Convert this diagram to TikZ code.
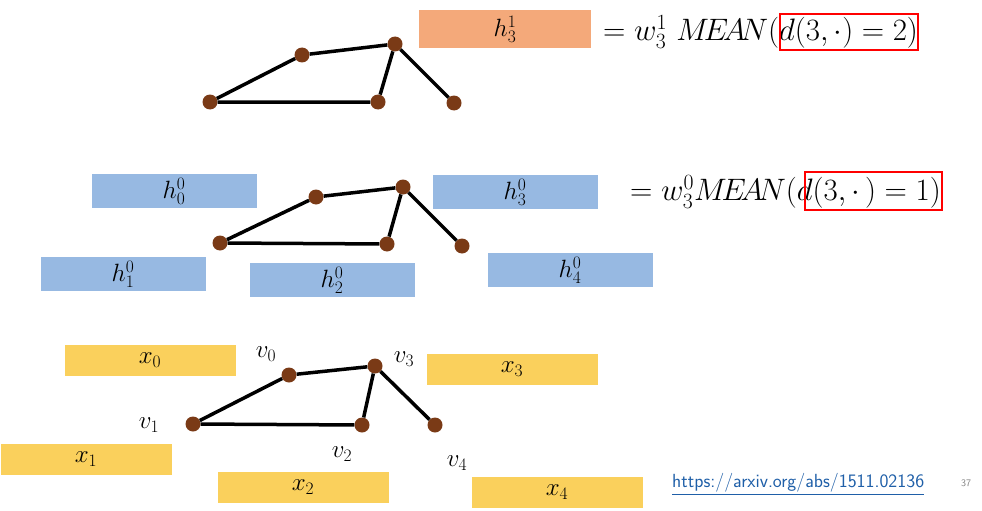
\documentclass[tikz,border=0pt]{standalone}
\usepackage{fix-cm}
\usepackage{amsmath}
\begin{document}
\begin{tikzpicture}[x=1pt,y=-1pt,
  v/.style={circle,fill=vcol,inner sep=0pt,minimum size=15pt},
  e/.style={line width=3.5pt,black},
  ob/.style={fill=ocol,minimum width=172pt,minimum height=38pt,inner sep=0pt,font=\fontsize{25}{28}\selectfont},
  bb/.style={fill=bcol,minimum width=165pt,minimum height=34pt,inner sep=0pt,font=\fontsize{25}{28}\selectfont},
  yb/.style={fill=ycol,minimum width=171pt,minimum height=31pt,inner sep=0pt,font=\fontsize{25}{28}\selectfont},
  lab/.style={font=\fontsize{25}{28}\selectfont,inner sep=0pt},
  eq/.style={font=\fontsize{31}{34}\selectfont,inner sep=0pt,anchor=west},
  rb/.style={draw=red,line width=1.5pt}]
\definecolor{vcol}{HTML}{7A3A16}
\definecolor{ocol}{HTML}{F4A97A}
\definecolor{bcol}{HTML}{97B9E2}
\definecolor{ycol}{HTML}{FAD05C}
\definecolor{ucol}{HTML}{1F5FA8}
\useasboundingbox (0,0) rectangle (982,511);
% top
\node[ob] (h31) at (505,29) {$h_3^1$};
\node[eq] (eq1) at (603,32) {$= w_3^1\ M\!E\!A\!N(d(3,\cdot) = 2)$};
\node[eq] (eq2) at (630,192) {$= w_3^0 M\!E\!A\!N(d(3,\cdot\,) = 1)$};
\draw[rb] (780,14) rectangle (918,50);
\node[v] (a0) at (302,55) {}; \node[v] (a3) at (395,44) {};
\node[v] (a1) at (210,102) {}; \node[v] (a2) at (378,102) {}; \node[v] (a4) at (454,103) {};
\draw[e] (a1)--(a0)--(a3)--(a2)--(a1); \draw[e] (a3)--(a4);
% middle
\node[bb] (h0) at (174,191) {$h_0^0$};
\node[bb] (h3) at (515,192) {$h_3^0$};
\node[bb] (h1) at (123,274) {$h_1^0$};
\node[bb] (h2) at (332,280) {$h_2^0$};
\node[bb] (h4) at (570,270) {$h_4^0$};
\draw[rb] (805,172) rectangle (942,210);
\node[v] (b0) at (316,197) {}; \node[v] (b3) at (403,187) {};
\node[v] (b1) at (220,243) {}; \node[v] (b2) at (387,244) {}; \node[v] (b4) at (462,246) {};
\draw[e] (b1)--(b0)--(b3)--(b2)--(b1); \draw[e] (b3)--(b4);
% bottom
\node[yb] (x0) at (150,360) {$x_0$};
\node[yb] (x3) at (512,369) {$x_3$};
\node[yb] (x1) at (86,459) {$x_1$};
\node[yb] (x2) at (303,487) {$x_2$};
\node[yb] (x4) at (557,492) {$x_4$};
\node[v] (c0) at (289,375) {}; \node[v] (c3) at (375,366) {};
\node[v] (c1) at (193,424) {}; \node[v] (c2) at (362,425) {}; \node[v] (c4) at (435,425) {};
\draw[e] (c1)--(c0)--(c3)--(c2)--(c1); \draw[e] (c3)--(c4);
\node[lab] (l0) at (266,354) {$v_0$};
\node[lab] (l3) at (404,359) {$v_3$};
\node[lab] (l1) at (149,425) {$v_1$};
\node[lab] (l2) at (342,454) {$v_2$};
\node[lab] (l4) at (457,463) {$v_4$};
\node[anchor=west,inner sep=0pt,text=ucol,font=\sffamily\fontsize{19}{22}\selectfont] (url) at (672,484) {\underline{https://arxiv.org/abs/1511.02136}};
\node[inner sep=0pt,text=gray,font=\sffamily\fontsize{10}{11}\selectfont] (pg) at (966,483) {37};
\end{tikzpicture}
\end{document}
